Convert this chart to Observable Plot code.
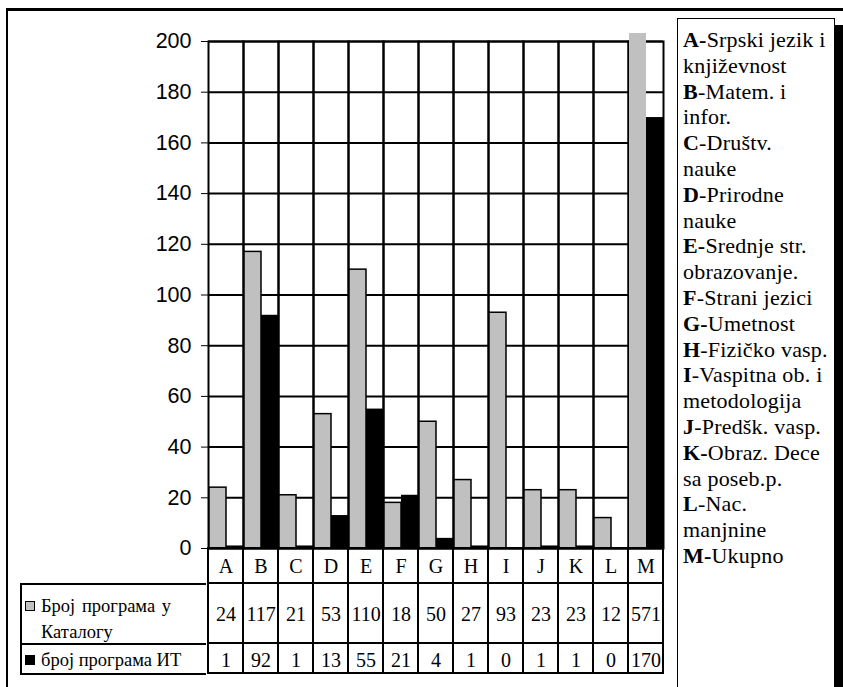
<!DOCTYPE html>
<html>
<head>
<meta charset="utf-8">
<script src="https://cdn.jsdelivr.net/npm/d3@7"></script>
<script src="https://cdn.jsdelivr.net/npm/@observablehq/plot@0.6"></script>
<style>
  html, body { margin: 0; padding: 0; background: #fff; }
  #wrap { position: relative; width: 843px; height: 687px; overflow: hidden; background: #fff; }
  #outer { position: absolute; left: 6px; top: 8px; width: 900px; height: 800px; border-top: 3px solid #000; border-left: 2.5px solid #000; box-sizing: border-box; }
  .abs { position: absolute; }
  .abs svg { overflow: visible; display: block; }
  .hdr { position: absolute; left: 20px; width: 186px; box-sizing: border-box; border: 2px solid #000; border-right: none; font-size: 18.5px; color: #000; }
  .mk { position: absolute; left: 3px; width: 10px; height: 10px; box-sizing: border-box; border: 1.5px solid #000; }
  .hdrtext { position: absolute; left: 19px; line-height: 26px; white-space: nowrap; }
  #legend { position: absolute; left: 677px; top: 18px; width: 158px; height: 760px; box-sizing: border-box; border: 1.5px solid #000; box-shadow: 8px 7px 0 0 #000; background: #fff; font-size: 22px; letter-spacing: 0.2px; line-height: 25.8px; color: #000; padding: 8px 0 0 5px; white-space: nowrap; }
</style>
</head>
<body>
<div id="wrap">
  <div id="outer"></div>
  <div id="chart" class="abs" style="left:0;top:0"></div>
  <div id="rowLetters" class="abs" style="left:206px;top:548px"></div>
  <div id="row1" class="abs" style="left:206px;top:583px"></div>
  <div id="row2" class="abs" style="left:206px;top:643px"></div>
  <div id="hdr1" class="hdr" style="top:583px;height:62px"></div>
  <div id="hdr2" class="hdr" style="top:643px;height:32px"></div>
  <div id="legend"></div>
</div>
<script>
// ---- data ----
const categories = ["A","B","C","D","E","F","G","H","I","J","K","L","M"];
const katalog = [24,117,21,53,110,18,50,27,93,23,23,12,571];
const itProgrami = [1,92,1,13,55,21,4,1,0,1,1,0,170];
const seriesKeys = ["katalog","it"];
const seriesNameLines = [["Број програма у", "Каталогу"], ["број програма ИТ"]];
const seriesColors = ["#c0c0c0","#000000"];
const yTicks = [0,20,40,60,80,100,120,140,160,180,200];
const yMax = 200;
const legendItems = [
  ["A-","Srpski jezik i"], ["","književnost"],
  ["B","-Matem. i"], ["","infor."],
  ["C","-Društv."], ["","nauke"],
  ["D","-Prirodne"], ["","nauke"],
  ["E-","Srednje str."], ["","obrazovanje."],
  ["F","-Strani jezici"],
  ["G-","Umetnost"],
  ["H","-Fizičko vasp."],
  ["I","-Vaspitna ob. i"], ["","metodologija"],
  ["J","-Predšk. vasp."],
  ["K-","Obraz. Dece"], ["","sa poseb.p."],
  ["L","-Nac."], ["","manjnine"],
  ["M-","Ukupno"]
];

const SERIF = "'Liberation Serif', 'Times New Roman', serif";
const SANS = "'Liberation Sans', Arial, sans-serif";

// ---- build tidy table ----
const rows = categories.flatMap((c, i) => [
  {cat: c, series: seriesKeys[0], value: katalog[i]},
  {cat: c, series: seriesKeys[1], value: itProgrami[i]}
]);
const grayIn = rows.filter(d => d.series === "katalog" && d.value <= yMax);
const grayOver = rows.filter(d => d.series === "katalog" && d.value > yMax);
const blackBars = rows.filter(d => d.series === "it");

const chart = Plot.plot({
  width: 843, height: 687,
  marginLeft: 206, marginRight: 178, marginTop: 41, marginBottom: 139,
  fx: {domain: categories, padding: 0, axis: null, label: null},
  x: {domain: seriesKeys, padding: 0, axis: null},
  y: {domain: [0, yMax], ticks: yTicks, tickSize: 7, tickPadding: 10, label: null, clamp: true, tickFormat: d => String(d)},
  style: {fontFamily: SANS, fontSize: "21.5px", color: "#000", background: "transparent", overflow: "visible"},
  marks: [
    Plot.ruleY(yTicks, {stroke: "#000", strokeWidth: 2}),
    Plot.frame({stroke: "#000", strokeWidth: 2}),
    Plot.barY(grayIn, {fx: "cat", x: "series", y: "value", fill: seriesColors[0], stroke: "#000", strokeWidth: 1.5}),
    Plot.barY(grayOver, {fx: "cat", x: "series", y: "value", fill: seriesColors[0], insetTop: -8}),
    Plot.barY(blackBars, {fx: "cat", x: "series", y: "value", fill: seriesColors[1]})
  ]
});
document.getElementById("chart").append(chart);

// ---- data table rows ----
function tableRow(h, texts, anchor, dy) {
  return Plot.plot({
    width: 459, height: h, margin: 0,
    x: {domain: categories, padding: 0, axis: null},
    style: {fontFamily: SERIF, fontSize: "20px", color: "#000", background: "transparent", overflow: "visible"},
    marks: [
      Plot.cell(categories, {x: d => d, fill: "none", stroke: "#000", strokeWidth: 2}),
      Plot.text(categories, {x: d => d, text: (d, i) => texts[i], frameAnchor: anchor, dy: dy, fill: "#000"})
    ]
  });
}
document.getElementById("rowLetters").append(tableRow(35, categories, "middle", 1));
document.getElementById("row1").append(tableRow(60, katalog.map(String), "top", 23));
document.getElementById("row2").append(tableRow(30, itProgrami.map(String), "middle", 2));

// header cells
function hdr(id, i, textTop, spacing) {
  const el = document.getElementById(id);
  el.style.fontFamily = SERIF;
  const mk = document.createElement("div");
  mk.className = "mk";
  mk.style.background = seriesColors[i];
  mk.style.top = (textTop + 8) + "px";
  el.append(mk);
  seriesNameLines[i].forEach((ln, j) => {
    const t = document.createElement("div");
    t.className = "hdrtext";
    t.style.top = (textTop + j * 26) + "px";
    t.style.wordSpacing = (j === 0 ? spacing : 0) + "px";
    t.textContent = ln;
    el.append(t);
  });
}
hdr("hdr1", 0, 8, 2);
hdr("hdr2", 1, 2, 0);

// legend
const lg = document.getElementById("legend");
lg.style.fontFamily = SERIF;
legendItems.forEach(([b, rest]) => {
  const line = document.createElement("div");
  if (b) {
    const s = document.createElement("b");
    s.textContent = b;
    line.append(s);
  }
  line.append(document.createTextNode(rest));
  lg.append(line);
});
</script>
</body>
</html>
